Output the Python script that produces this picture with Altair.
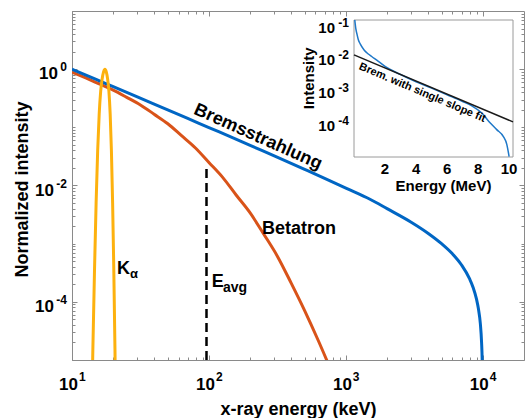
import altair as alt
import pandas as pd

# ---------------- data ----------------
# Main panel: x-ray energy (keV) vs normalized intensity
brem_energy = [10, 15, 20, 30, 50, 70, 100, 150, 200, 300, 500, 700, 1000, 1500, 2000,
               3000, 4000, 5000, 6000, 7000, 8000, 8500, 9000, 9300, 9600, 9800, 9900, 9950]
brem_intensity = [1.0, 0.666, 0.50, 0.333, 0.199, 0.142, 0.099, 0.066, 0.049, 0.0324, 0.019,
                  0.0133, 0.0090, 0.0058, 0.0040, 0.00234, 0.0015, 0.0010, 0.00067, 0.00043,
                  0.00025, 0.000177, 0.000111, 7.5e-5, 4.2e-5, 2.0e-5, 1.0e-5, 5e-6]

beta_energy = [10, 12.6, 15.8, 20, 25.1, 31.6, 39.8, 50.1, 63.1, 79.4, 100, 126, 158, 200,
               251, 316, 398, 501, 631, 794]
beta_intensity = [0.891, 0.706, 0.557, 0.435, 0.328, 0.243, 0.168, 0.115, 0.0718, 0.0446,
                  0.0249, 0.0138, 0.00686, 0.00338, 0.00147, 6.1e-4, 2.12e-4, 7.0e-5,
                  2.12e-5, 6.0e-6]

ka_energy = [13.8, 14.2, 14.6, 15.0, 15.4, 15.8, 16.2, 16.6, 17.0, 17.4, 17.8, 18.2, 18.6,
             19.0, 19.4, 19.8, 20.2, 20.6, 21.0]
ka_intensity = [3e-7, 1.5e-5, 3.5e-4, 5e-3, 0.04, 0.17, 0.42, 0.68, 0.9, 1.0, 0.9, 0.68,
                0.42, 0.17, 0.04, 5e-3, 3.5e-4, 1.5e-5, 3e-7]

eavg_energy = [96]
eavg_low = [1e-5]
eavg_high = [0.023]

# Inset: energy (MeV) vs intensity
inset_energy = [0.05, 0.12, 0.2, 0.28, 0.4, 0.65, 0.9, 1.14, 1.57, 2.0, 3.0, 4.0, 5.0, 6.0,
                7.0, 7.6, 8.24, 8.77, 9.2, 9.63, 9.85, 10.0]
inset_intensity = [0.14, 0.075, 0.05, 0.035, 0.026, 0.017, 0.013, 0.0107, 0.0076, 0.0053,
                   0.0030, 0.0018, 0.00115, 0.00072, 0.00045, 0.00033, 0.0002, 0.0001,
                   6.2e-5, 3.8e-5, 2.2e-5, 9.2e-6]
fit_energy = [0.0, 10.25]
fit_intensity = [0.012, 1.07e-4]

# Tick values / labels (base and exponent)
x_tick_values = [10, 100, 1000, 10000]
x_tick_base = ["10", "10", "10", "10"]
x_tick_exp = ["1", "2", "3", "4"]
y_tick_values = [1.0, 1e-2, 1e-4]
y_tick_base = ["10", "10", "10"]
y_tick_exp = ["0", "-2", "-4"]
x_minor = [k * 10 ** d for d in range(1, 5) for k in range(2, 10) if k * 10 ** d < 20000]
y_minor = [k * 10.0 ** d for d in range(-5, 1) for k in range(1, 10)]
y_minor = [v for v in y_minor
           if all(abs(v / t - 1) > 1e-9 for t in y_tick_values + [1e-5])]

inset_x_values = [2, 4, 6, 8, 10]
inset_x_labels = ["2", "4", "6", "8", "10"]
inset_y_values = [1e-4, 1e-3, 1e-2, 1e-1]
inset_y_base = ["10", "10", "10", "10"]
inset_y_exp = ["-4", "-3", "-2", "-1"]

# Text annotations (positions in data coordinates)
brem_label = ["Bremsstrahlung"]; brem_label_E = [228]; brem_label_I = [0.068]
beta_label = ["Betatron"]; beta_label_E = [244]; beta_label_I = [1.78e-3]
ka_label = ["K"]; ka_label_E = [21.3]; ka_label_I = [3.6e-4]
ka_sub = ["α"]; ka_sub_E = [26.5]; ka_sub_I = [3.0e-4]
eavg_label = ["E"]; eavg_label_E = [105]; eavg_label_I = [2.2e-4]
eavg_sub = ["avg"]; eavg_sub_E = [126.5]; eavg_sub_I = [1.7e-4]
fit_label = ["Brem. with single slope fit"]; fit_label_E = [4.4]; fit_label_I = [8.3e-4]
inset_xtitle = ["Energy (MeV)"]; inset_xtitle_E = [5.77]
inset_ytitle = ["Intensity"]; inset_ytitle_I = [2.3e-3]

# ---------------- styling ----------------
FONT = "Liberation Sans"
GRAY = "#8a8a8a"
IGRAY = "#9a9a9a"
BLUE = "#0066c4"
ORANGE = "#d95319"
YELLOW = "#fdb10e"

xs = alt.Scale(type="log", domain=[10, 20000], nice=False)
ys = alt.Scale(type="log", domain=[1e-5, 10], nice=False)
xi = alt.Scale(domain=[0, 10.25], range=[282, 441], nice=False, zero=False)
yi = alt.Scale(type="log", domain=[9e-6, 0.14], range=[146, 9], nice=False)


def df(**kw):
    return pd.DataFrame(kw)


def place(chart, sx, sy, xaxis=None, yaxis=None, xf="E", yf="I"):
    return chart.encode(
        x=alt.X(f"{xf}:Q", scale=sx, axis=xaxis),
        y=alt.Y(f"{yf}:Q", scale=sy, axis=yaxis),
    )


def text(data, sx, sy, size, align="left", baseline="middle", angle=0, dx=0, dy=0):
    kw = dict(font=FONT, fontSize=size, fontWeight="bold", align=align,
              baseline=baseline, color="black")
    if angle:
        kw["angle"] = angle
    if dx:
        kw["dx"] = dx
    if dy:
        kw["dy"] = dy
    return place(alt.Chart(data).mark_text(**kw), sx, sy).encode(text="t:N")


# ---- main curves
orange_line = place(alt.Chart(df(E=beta_energy, I=beta_intensity)).mark_line(
    color=ORANGE, strokeWidth=3, clip=True, interpolate="monotone"), xs, ys)
blue_line = place(alt.Chart(df(E=brem_energy, I=brem_intensity)).mark_line(
    color=BLUE, strokeWidth=3, clip=True, interpolate="monotone"), xs, ys)
ka_line = place(alt.Chart(df(E=ka_energy, I=ka_intensity)).mark_line(
    color=YELLOW, strokeWidth=3, clip=True, interpolate="monotone"), xs, ys)

eavg_rule = alt.Chart(df(E=eavg_energy, lo=eavg_low, hi=eavg_high)).mark_rule(
    color="black", strokeWidth=2.5, strokeDash=[9, 5]).encode(
    x=alt.X("E:Q", scale=xs, axis=None),
    y=alt.Y("lo:Q", scale=ys, axis=None),
    y2="hi:Q")

texts = [
    text(df(E=brem_label_E, I=brem_label_I, t=brem_label), xs, ys, 18, "center", angle=24),
    text(df(E=beta_label_E, I=beta_label_I, t=beta_label), xs, ys, 18),
    text(df(E=ka_label_E, I=ka_label_I, t=ka_label), xs, ys, 18),
    text(df(E=ka_sub_E, I=ka_sub_I, t=ka_sub), xs, ys, 13),
    text(df(E=eavg_label_E, I=eavg_label_I, t=eavg_label), xs, ys, 18),
    text(df(E=eavg_sub_E, I=eavg_sub_I, t=eavg_sub), xs, ys, 14),
]

# ---- main tick labels (base "10" + raised exponent)
nx = len(x_tick_values)
tick_labels = [
    text(df(E=x_tick_values, I=[1e-5] * nx, t=x_tick_base), xs, ys, 17, "right",
         "alphabetic", dx=6, dy=30),
    text(df(E=x_tick_values, I=[1e-5] * nx, t=x_tick_exp), xs, ys, 12, "left",
         "alphabetic", dx=7, dy=21),
]
for n in sorted(set(len(e) for e in y_tick_exp)):
    idx = [i for i, e in enumerate(y_tick_exp) if len(e) == n]
    vals = [y_tick_values[i] for i in idx]
    tick_labels.append(text(df(E=[10] * len(idx), I=vals, t=[y_tick_base[i] for i in idx]),
                            xs, ys, 17, "right", "alphabetic", dx=-6 - 4 * n - 4, dy=10))
    tick_labels.append(text(df(E=[10] * len(idx), I=vals, t=[y_tick_exp[i] for i in idx]),
                            xs, ys, 12, "right", "alphabetic", dx=-5, dy=2))

# ---- main axes: ticks (inward) and titles
anchor = df(E=[100], I=[1.0])
tk = dict(tickColor=GRAY, tickWidth=1, grid=False, labels=False)

ax_bottom = alt.Axis(orient="bottom", values=x_tick_values, tickSize={"expr": "-5"},
                     domainColor=GRAY, title="x-ray energy (keV)", titleFont=FONT,
                     titleFontSize=18, titleFontWeight="bold", titleColor="black",
                     titleBaseline="alphabetic", titleX=226, titleY=54.5, **tk)
ax_left = alt.Axis(orient="left", values=y_tick_values, tickSize={"expr": "-5"},
                   domainColor=GRAY, title="Normalized intensity", titleFont=FONT,
                   titleFontSize=18, titleFontWeight="bold", titleColor="black",
                   titleBaseline="alphabetic", titleX=-45, titleY=178, **tk)
ax_bottom_minor = alt.Axis(orient="bottom", values=x_minor, domain=False,
                           tickSize={"expr": "-3"}, title=None, **tk)
ax_left_minor = alt.Axis(orient="left", values=y_minor, domain=False,
                         tickSize={"expr": "-3"}, title=None, **tk)
ax_top = alt.Axis(orient="top", values=x_tick_values, domain=False,
                  tickSize={"expr": "-5"}, title=None, **tk)
ax_right = alt.Axis(orient="right", values=y_tick_values, domain=False,
                    tickSize={"expr": "-5"}, title=None, **tk)
ax_top_minor = alt.Axis(orient="top", values=x_minor, domain=False,
                        tickSize={"expr": "-3"}, title=None, **tk)
ax_right_minor = alt.Axis(orient="right", values=y_minor, domain=False,
                          tickSize={"expr": "-3"}, title=None, **tk)

axis_layers = [
    place(alt.Chart(anchor).mark_point(opacity=0), xs, ys, ax_bottom, ax_left),
    place(alt.Chart(anchor).mark_point(opacity=0), xs, ys, ax_bottom_minor, ax_left_minor),
    place(alt.Chart(anchor).mark_point(opacity=0), xs, ys, ax_top, ax_right),
    place(alt.Chart(anchor).mark_point(opacity=0), xs, ys, ax_top_minor, ax_right_minor),
]

main = alt.layer(orange_line, blue_line, ka_line, eavg_rule, *texts, *tick_labels,
                 *axis_layers).resolve_axis(x="independent", y="independent")

# ---------------- inset ----------------
inset_box = alt.Chart(df(x0=[0.0], x1=[10.25], y0=[9e-6], y1=[0.14])).mark_rect(
    fill="white", stroke=IGRAY, strokeWidth=1).encode(
    x=alt.X("x0:Q", scale=xi, axis=None), x2="x1:Q",
    y=alt.Y("y0:Q", scale=yi, axis=None), y2="y1:Q")

inset_fit = place(alt.Chart(df(E=fit_energy, I=fit_intensity)).mark_line(
    color="#1a1a1a", strokeWidth=1.5), xi, yi)
inset_curve = place(alt.Chart(df(E=inset_energy, I=inset_intensity)).mark_line(
    color="#1f78c8", strokeWidth=1.5, interpolate="monotone"), xi, yi)

ni = len(inset_x_values)
my = len(inset_y_values)
inset_texts = [
    text(df(E=fit_label_E, I=fit_label_I, t=fit_label), xi, yi, 11, "center", angle=23),
    text(df(E=inset_x_values, I=[9e-6] * ni, t=inset_x_labels), xi, yi, 15, "center",
         "alphabetic", dy=17),
    text(df(E=[0.0] * my, I=inset_y_values, t=inset_y_base), xi, yi, 15, "right",
         "alphabetic", dx=-19, dy=8),
    text(df(E=[0.0] * my, I=inset_y_values, t=inset_y_exp), xi, yi, 12, "right",
         "alphabetic", dx=-5, dy=2),
    text(df(E=inset_xtitle_E, I=[9e-6], t=inset_xtitle), xi, yi, 15, "center",
         "alphabetic", dy=34),
    text(df(E=[0.0], I=inset_ytitle_I, t=inset_ytitle), xi, yi, 15, "center",
         "alphabetic", angle=270, dy=-40),
]

inset = alt.layer(inset_box, inset_curve, inset_fit, *inset_texts)

chart = alt.layer(main, inset).resolve_scale(
    x="independent", y="independent").properties(
    width=452, height=349,
    padding={"left": 72, "top": 11, "right": 2, "bottom": 58},
    autosize=alt.AutoSizeParams(type="none"),
    background="white",
).configure_view(stroke=GRAY, strokeWidth=1)

chart.save("out.html", embed_options={"renderer": "svg", "actions": False})
